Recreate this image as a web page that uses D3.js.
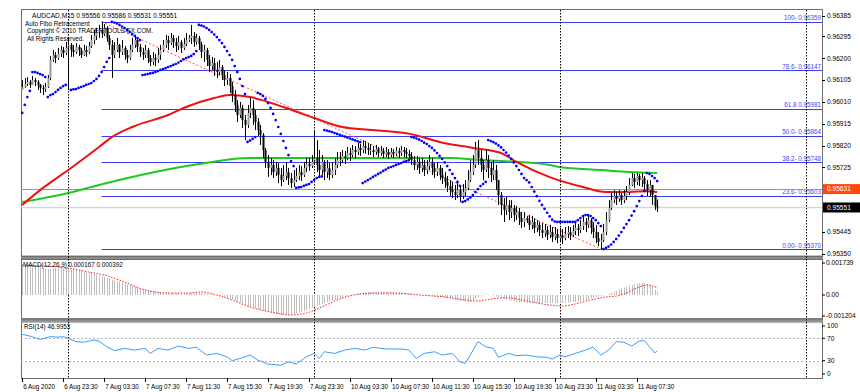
<!DOCTYPE html>
<html><head><meta charset="utf-8">
<script src="https://cdn.jsdelivr.net/npm/d3@7/dist/d3.min.js"></script>
<style>body{margin:0;background:#fff}svg{display:block;font-family:"Liberation Sans",Arial,sans-serif}</style>
</head><body><svg id="c" width="860" height="392"></svg>
<script>
// ---------- DATA (prices in points above 0.95000, i.e. 1385 = 0.96385) ----------
const symbol = "AUDCAD,M15";
const lastOHLC = ["0.95556", "0.95586", "0.95531", "0.95551"];
const firstOpen = 1062;
const closes = [1075,1088,1097,1084,1105,1097,1084,1071,1066,1075, 1114,1193,1214,1201,1219,1236,1223,1245,1258,1236,
1227,1249,1236,1214,1236,1227,1253,1279,1297,1314, 1323,1306,1332,1288,1258,1214,1236,1258,1227,1245,
1214,1201,1236,1258,1279,1249,1227,1214,1236,1201, 1184,1201,1193,1214,1236,1258,1279,1266,1288,1271,
1253,1271,1245,1262,1279,1288,1297,1271,1288,1262,1227, 1236,1193,1166,1179,1149,1140,1162,1127,1105,1114,
1079,1040,997,953,984,931,910,962,984,953, 923,888,866,801,749,723,736,705,723,692,
670,688,705,679,657,670,688,705,692,723, 740,731,749,766,736,714,749,705,723,692,
714,736,757,757,775,766,788,779,801,792, 810,801,818,810,801,801,792,805,788,797,
784,792,779,792,784,797,788,801,792,784, 775,757,736,749,723,736,714,731,749,723,
705,723,692,679,662,644,627,618,605,627, 601,618,636,670,705,736,801,766,736,714,
757,723,692,714,670,605,562,540,562,531, 549,518,531,505,488,505,495,475,488,462,475,
453,440,453,431,444,423,436,418,431,418, 436,444,431,449,462,453,470,488,475,496,
462,444,418,401,409,444,496,549,583,601, 588,605,583,601,618,649,679,662,688,670,
679,653,627,649,605,556,551];
const highs = [1105,1114,1118,1105,1123,1114,1105,1088,1084,1092, 1127,1210,1236,1227,1245,1253,1249,1271,1293,1266,
1258,1266,1258,1245,1258,1253,1271,1301,1323,1332, 1345,1359,1349,1340,1301,1279,1271,1288,1262,1279,
1253,1236,1258,1288,1297,1288,1262,1245,1258,1245, 1214,1227,1219,1245,1258,1279,1301,1297,1310,1301,
1288,1297,1279,1288,1310,1301,1345,1314,1306,1297,1271, 1258,1245,1214,1206,1201,1184,1193,1171,1149,1140,
1131,1097,1062,1018,1010,997,953,997,1027,1018, 975,940,910,875,810,779,766,757,749,744,
723,736,749,723,701,714,723,736,731,749, 766,766,779,888,844,801,779,757,757,744,
749,766,792,792,801,797,814,810,823,818, 831,827,844,840,831,827,818,823,814,818,
810,814,805,810,805,814,810,818,814,810, 801,792,775,775,766,766,757,757,779,766,
744,749,736,723,705,688,670,662,649,657, 644,653,670,714,757,779,836,844,801,757,
801,779,749,757,736,670,618,592,597,583, 583,562,557,549,531,531,514,518,514,505,496,
488,483,479,470,475,466,466,457,462,457, 466,470,466,475,483,479,496,514,505,514,
505,488,475,444,436,479,531,583,614,627, 618,627,614,627,644,679,701,697,701,697,
701,688,670,670,649,605,586];
const lows = [1062,1071,1079,1071,1084,1079,1062,1049,1040,1053, 1071,1105,1184,1179,1193,1206,1201,1214,1062,1206,
1206,1219,1210,1201,1210,1206,1219,1245,1262,1279, 1288,1288,1297,1271,1236,1114,1201,1227,1201,1214,
1193,1179,1193,1227,1245,1227,1206,1193,1201,1179, 1166,1171,1166,1179,1193,1227,1245,1236,1258,1245,
1227,1236,1223,1236,1253,1271,1262,1249,1258,1236,1201, 1184,1166,1140,1149,1123,1114,1127,1105,1079,1084,
1049,1010,966,923,940,897,844,897,940,910, 888,862,823,766,723,684,692,679,688,657,
644,662,670,649,636,640,662,670,666,684, 705,710,723,736,705,688,692,670,679,670,
679,692,723,731,744,740,757,753,770,766, 779,775,788,784,779,779,770,779,770,775,
766,770,762,770,766,775,766,775,770,766, 757,736,714,714,697,705,688,697,714,692,
679,688,670,653,636,618,601,592,583,592, 575,588,601,627,662,692,723,736,705,670,
705,679,662,670,627,562,518,488,518,496, 505,488,496,475,462,466,483,453,457,440,444,
427,418,423,409,418,401,409,396,405,392, 409,418,409,423,431,427,440,453,444,462,
436,418,396,383,370,401,431,488,540,570, 562,575,562,570,583,605,644,636,649,644,
640,618,601,597,562,540,531];
const psar = [962,997,1031,1058,1140,1140,1136,1131,1127,1118, 1031,1040,1044,1053,1062,1071,1079,1084,null,1062,
1065,1066,1071,1075,1079,1084,1088,1092,1101,1110, 1123,1140,1162,1184,1201,1358,1355,1351,1345,1338,
1331,1323,1314,1305,1297,1288,1279,1127,1129,1131, 1134,1136,1140,1144,1149,1153,1157,1162,1166,1171,
1175,1181,1188,1195,1201,1205,1210,1218,1231,1345,1342, 1338,1331,1323,1314,1303,1292,1279,1266,1249,1231,
1214,1193,1166,1140,1110,1079,1044,836,842,849, 857,1049,1044,1036,1023,1005,984,958,931,901,
871,840,810,779,753,731,636,638,640,645, 649,653,662,670,679,684,686,888,885,882,
879,875,871,867,863,859,855,851,847,843, 839,835,657,664,670,677,684,690,697,703,
710,716,723,727,731,736,740,744,749,753, 757,857,855,851,846,840,833,827,818,810,
799,788,775,762,747,731,714,697,679,662, 644,575,579,586,594,605,618,631,644,653,
662,844,840,835,829,821,812,801,790,777, 762,747,731,714,697,679,670,660,640,620,600,
580,562,545,528,512,498,490,488,488,488, 488,488,488,488,488,496,505,514,518,518,
514,505,496,483,470,370,375,381,390,401, 414,429,444,462,479,496,516,535,557,579,
601,623,701,697,688,679,666];
// moving averages, read at sampled bars: [bar, points]
const maRed = [[0,562],[8,635],[18,714],[30,814],[35,857],[43,901],[57,953],[64,988],[75,1027],[81,1040],[89,1031],[102,988],[114,940],[125,901],[137,888],[152,870],[163,836],[176,810],[187,788],[193,749],[206,683],[219,640],[228,618],[237,618],[244,622],[248,618]];
const maGreen = [[0,575],[18,614],[30,649],[50,701],[69,740],[89,766],[108,766],[135,766],[153,766],[167,766],[180,757],[187,753],[206,736],[210,727],[226,714],[237,705],[248,701]];
// MACD main (x1e-6), one per bar
const macd = [1614,1620,1630,1620,1600, 1560,1520,1480,1440,1400,1380,1400,1430,1450,1460,1460,1455,1450,
1440,1420,1390,1360,1330,1300,1260,1230,1200,1170,1140,1100,1050,1000,
960,920,880,830,780,740,700,660,620,580,540,500,460,420,380,340,
300,270,240,210,190,170,150,140,130,120,110,110,110,105,100,100,105,107,110,115,110,105,100,90,70,50,30,10,
-10,-40,-80,-120,-160,-200,-250,-300,-350,-400,-460,-520,-580,-640,
-680,-720,-760,-800,-840,-880,-920,-960,-990,-1020,-1040,-1060,-1075,-1080,
-1070,-1050,-1020,-990,-950,-910,-860,-800,-740,-680,
-630,-580,-530,-480,-430,-390,-350,-310,-270,-230,-190,-150,-110,-70,-30,
10,40,70,100,120,140,150,160,165,165,160,160,155,150,145,140,130,120,110,100,90,80,70,55,40,25,10,
0,-15,-30,-45,-60,-75,-90,-110,-130,-150,-170,-190,-210,-240,-270,-300,-330,-360,-380,-377,
-320,-220,-120,-40,20,40,30,0,-40,-80,-120,
-160,-200,-240,-280,-310,-340,-360,-380,-395,-405,-410,-415,-420,-425,-430,-430,-430,-430,
-430,-430,-430,-425,-420,-420,-420,-415,-405,-395,-385,-375,-360,
-330,-300,-270,-240,-200,-160,-120,-90,-60,-30,0,
50,110,170,230,290,350,400,450,500,540,580,610,630,646,
640,600,540,440,300,167];
const macdSignal = [[0,1614],[18,1453],[26,1237],[32,1076],[40,699],[48,269],[57,108],[65,108],[70,161],[76,0],[82,-269],[89,-646],[97,-915],[105,-1076],[111,-969],[117,-646],[124,-215],[132,54],[138,108],[146,108],[155,0],[165,-108],[173,-269],[178,-320],[184,-200],[190,-150],[195,-269],[201,-430],[206,-538],[211,-592],[216,-484],[222,-269],[228,-108],[232,-60],[236,108],[240,377],[244,538],[248,392]];
const rsi = [[0,77],[3,74],[7,68],[11,73],[14,72],[16,73],[18,70],[21,64],[24,63],[28,67],[30,65],[33,55],[36,48],[40,52],[44,49],[48,52],[50,43],[53,52],[57,49],[61,56],[65,52],[68,54],[72,40],[76,43],[80,37],[82,30],[85,34],[89,40],[92,31],[96,24],[101,22],[104,28],[107,24],[111,37],[114,43],[116,34],[118,46],[122,43],[126,49],[130,52],[134,49],[137,54],[142,51],[148,51],[151,49],[154,34],[157,43],[161,46],[164,40],[168,43],[171,28],[173,25],[175,40],[178,64],[181,55],[184,52],[186,36],[190,43],[193,39],[197,40],[201,37],[205,36],[207,33],[210,40],[212,37],[216,43],[220,49],[223,54],[226,40],[229,49],[232,64],[235,63],[238,56],[241,65],[243,66],[245,55],[247,44],[248,47]];
// Fibonacci levels
const fiboNames = ["100-","78.6-","61.8","50.0-","38.2-","23.6-","0.00-"];
const fiboPrices = [0.96359,0.96147,0.95981,0.95864,0.95748,0.95603,0.95370];
const fiboHighBar = 31, fiboLowBar = 226;
const hLinePrice = 0.95631, bidPrice = 0.95551;
const priceTicks = [0.96385,0.96295,0.96200,0.96105,0.96010,0.95915,0.95820,0.95725,0.95445,0.95350];
const timeTickBars = [0,16,32,48,64,80,96,112,128,144,160,176,192,208,224,240];
const timeTickLabels = ["6 Aug 2020","6 Aug 23:30","7 Aug 03:30","7 Aug 07:30","7 Aug 11:30","7 Aug 15:30","7 Aug 19:30","7 Aug 23:30","10 Aug 03:30","10 Aug 07:30","10 Aug 11:30","10 Aug 15:30","10 Aug 19:30","10 Aug 23:30","11 Aug 03:30","11 Aug 07:30"];
const daySeparatorBars = [18,114,210,306];
const macdLabel = "MACD(12,26,9) 0.000167 0.000392";
const macdTicks = [0.001739, 0, -0.001204];
const rsiLabel = "RSI(14) 46.9953";
const rsiTicks = [100,70,30,0];

// ---------- DRAW ----------
const P = v => v == null ? null : 0.95 + v / 1e5;
const svg = d3.select("#c");
const L = 21, R = 822;
const x = d3.scaleLinear().domain([0, 306]).range([22.2, 805.7]);
const y = d3.scaleLinear().domain([0.95350, 0.96385]).range([253.7, 15.7]);
const ym = d3.scaleLinear().domain([0, 0.001739]).range([295, 262.7]);
const yr = d3.scaleLinear().domain([0, 100]).range([377.5, 321.5]);
const sx = i => Math.round(x(i)) + 0.5;

svg.append("rect").attr("width",860).attr("height",392).attr("fill","#fff");

const panels = [[9,256],[259,318.5],[321.5,378]];
svg.append("rect").attr("x",L).attr("y",255.5).attr("width",R-L+1).attr("height",3.5).attr("fill","#8c8c8c");
svg.append("rect").attr("x",L).attr("y",318).attr("width",R-L+1).attr("height",3.5).attr("fill","#8c8c8c");
panels.forEach(([t,b]) => svg.append("rect").attr("x",L+0.5).attr("y",t+0.5).attr("width",R-L).attr("height",b-t)
  .attr("fill","none").attr("stroke","#6e6e6e").attr("stroke-width",1));

const main = svg.append("g");
fiboPrices.forEach((p,k) => {
  main.append("line").attr("x1",x(fiboHighBar)).attr("x2",R).attr("y1",Math.round(y(p))+0.5).attr("y2",Math.round(y(p))+0.5)
    .attr("stroke","#3c3cf5").attr("stroke-width",1.2);
  main.append("text").attr("x",R-1).attr("y",y(p)-1.5).attr("text-anchor","end").attr("font-size",6.3)
    .attr("fill","#4646f0").text(fiboNames[k]+" "+p.toFixed(5));
});
main.append("line").attr("x1",L).attr("x2",R).attr("y1",y(bidPrice)).attr("y2",y(bidPrice)).attr("stroke","#d6d6d6").attr("stroke-width",1.6);
main.append("line").attr("x1",L).attr("x2",R).attr("y1",Math.round(y(hLinePrice))+0.5).attr("y2",Math.round(y(hLinePrice))+0.5).attr("stroke","#ff7050").attr("stroke-width",1);

daySeparatorBars.forEach(b => svg.append("line").attr("x1",sx(b)).attr("x2",sx(b)).attr("y1",10).attr("y2",378)
  .attr("stroke","#000").attr("stroke-width",1).attr("stroke-dasharray","1.5,1.5"));

const curve = d3.line().x(d=>x(d[0])).y(d=>y(P(d[1]))).curve(d3.curveMonotoneX);
main.append("path").attr("d",curve(maGreen)).attr("fill","none").attr("stroke","#1ec81e").attr("stroke-width",2);
main.append("path").attr("d",curve(maRed)).attr("fill","none").attr("stroke","#f01010").attr("stroke-width",2);

main.append("line").attr("x1",x(fiboHighBar)).attr("y1",y(fiboPrices[0])).attr("x2",x(fiboLowBar)).attr("y2",y(fiboPrices[6]))
  .attr("stroke","#ff5050").attr("stroke-width",1).attr("stroke-dasharray","2,2");

const bars = closes.map((c,i)=>({i, o: P(i===0?firstOpen:closes[i-1]), h:P(highs[i]), l:P(lows[i]), c:P(c)}));
const cg = main.append("g");
cg.selectAll("line.w").data(bars).join("line").attr("x1",d=>sx(d.i)).attr("x2",d=>sx(d.i))
  .attr("y1",d=>y(d.h)).attr("y2",d=>y(d.l)).attr("stroke","#000").attr("stroke-width",1);
cg.selectAll("rect").data(bars).join("rect")
  .attr("x",d=>Math.round(x(d.i))-0.5).attr("width",2)
  .attr("y",d=>y(Math.max(d.o,d.c))).attr("height",d=>Math.max(1,Math.abs(y(d.o)-y(d.c))))
  .attr("fill",d=>d.c>=d.o?"#9a9a9a":"#000");

main.selectAll("circle.sar").data(psar.map((v,i)=>({i,v})).filter(d=>d.v!=null)).join("circle")
  .attr("cx",d=>x(d.i)).attr("cy",d=>y(P(d.v))).attr("r",1.35).attr("fill","#0000ff");

svg.append("g").selectAll("line").data(macd.map((v,i)=>({i,v}))).join("line")
  .attr("x1",d=>sx(d.i)).attr("x2",d=>sx(d.i)).attr("y1",ym(0)).attr("y2",d=>ym(d.v/1e6))
  .attr("stroke","#bdbdbd").attr("stroke-width",1);
svg.append("path").attr("d",d3.line().x(d=>x(d[0])).y(d=>ym(d[1]/1e6)).curve(d3.curveMonotoneX)(macdSignal))
  .attr("fill","none").attr("stroke","#ff2020").attr("stroke-width",1).attr("stroke-dasharray","1.5,1.5");

[70,30].forEach(v => svg.append("line").attr("x1",L).attr("x2",R).attr("y1",Math.round(yr(v))+0.5).attr("y2",Math.round(yr(v))+0.5)
  .attr("stroke","#b4b4b4").attr("stroke-dasharray","2,2"));
svg.append("path").attr("d",d3.line().x(d=>x(d[0])).y(d=>yr(d[1]))(rsi)).attr("fill","none").attr("stroke","#3c9cff").attr("stroke-width",1);

const T = (tx,ty,s,fs,fill) => svg.append("text").attr("x",tx).attr("y",ty).attr("font-size",fs||6.5).attr("fill",fill||"#000").text(s);
T(32,17.5,symbol+"  "+lastOHLC.join(" "),6.6);
T(25,25.5,"Auto Fibo Retracement",6.3);
T(27,33,"Copyright © 2010 TRADERTOOLS-FX.COM.",6.3);
T(27,40.5,"All Rights Reserved.",6.3);
T(23,266.5,macdLabel,6.3);
T(24,328.5,rsiLabel,6.3);

const ax = svg.append("g").attr("font-size",6.6);
priceTicks.forEach(p => {
  ax.append("line").attr("x1",R).attr("x2",R+3).attr("y1",Math.round(y(p))+0.5).attr("y2",Math.round(y(p))+0.5).attr("stroke","#000");
  ax.append("text").attr("x",827).attr("y",y(p)+2.3).text(p.toFixed(5));
});
[[hLinePrice,"#ff4a0a"],[bidPrice,"#000"]].forEach(([p,c]) => {
  ax.append("rect").attr("x",823).attr("y",y(p)-5).attr("width",38).attr("height",10).attr("fill",c);
  ax.append("text").attr("x",827).attr("y",y(p)+2.3).attr("fill","#fff").text(p.toFixed(5));
});
macdTicks.forEach(v => {
  const yy = Math.min(Math.max(ym(v),263),316);
  ax.append("line").attr("x1",R).attr("x2",R+3).attr("y1",yy).attr("y2",yy).attr("stroke","#000");
  ax.append("text").attr("x",826).attr("y",yy+2.3).text(v===0?"0.00":v.toFixed(6));
});
rsiTicks.forEach(v => {
  const yy = Math.min(Math.max(yr(v),326),374);
  ax.append("line").attr("x1",R).attr("x2",R+3).attr("y1",yy).attr("y2",yy).attr("stroke","#000");
  ax.append("text").attr("x",827).attr("y",yy+2.3).text(v);
});
timeTickBars.forEach((b,k) => {
  svg.append("line").attr("x1",sx(b)).attr("x2",sx(b)).attr("y1",378).attr("y2",382).attr("stroke","#000");
  svg.append("text").attr("x",x(b)+1).attr("y",389).attr("font-size",6.3).text(timeTickLabels[k]);
});
</script></body></html>
